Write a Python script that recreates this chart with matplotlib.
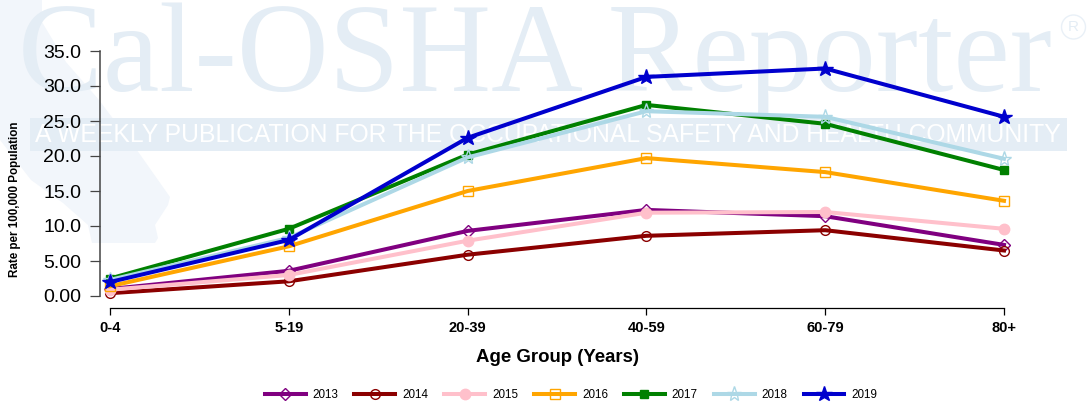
import matplotlib
matplotlib.use("Agg")
import matplotlib.pyplot as plt
from matplotlib.patches import Polygon, Rectangle, Circle

W, H = 1088, 404

age_groups = ['0-4', '5-19', '20-39', '40-59', '60-79', '80+']
y_ticks = [0, 5, 10, 15, 20, 25, 30, 35]
y_labels = ['0.00', '5.00', '10.0', '15.0', '20.0', '25.0', '30.0', '35.0']

rate_2013 = [1.0, 3.6, 9.3, 12.3, 11.4, 7.3]
rate_2014 = [0.4, 2.1, 5.9, 8.6, 9.4, 6.5]
rate_2015 = [0.9, 3.0, 7.9, 11.9, 12.0, 9.6]
rate_2016 = [1.4, 7.1, 15.0, 19.7, 17.7, 13.6]
rate_2017 = [2.5, 9.6, 20.2, 27.3, 24.6, 18.0]
rate_2018 = [2.3, 8.3, 19.8, 26.4, 25.6, 19.6]
rate_2019 = [2.0, 8.0, 22.6, 31.3, 32.5, 25.6]


def px_x(x):
    return x / W


def px_y(y):
    return 1 - y / H


plt.rcParams['font.family'] = ['Liberation Sans', 'DejaVu Sans']
fig = plt.figure(figsize=(W / 100, H / 100), dpi=100)

# watermark sits behind the chart, drawn in figure pixels
bg = fig.add_axes([0, 0, 1, 1], zorder=0)
bg.set_xlim(0, W)
bg.set_ylim(H, 0)
bg.axis('off')
state = [(42, 0), (42, 22), (66, 62), (99, 100), (139, 153), (170, 197), (168, 205),
         (155, 225), (158, 238), (155, 243), (92, 243), (88, 225),
         (63, 203), (31, 180), (0, 140), (0, 0)]
bg.add_patch(Polygon(state, closed=True, fc='#f2f6fb', ec='none'))
bg.add_patch(Rectangle((29.5, 118), 1037, 33, fc='#e4edf5', ec='none'))
bg.text(35, 134.5, 'A WEEKLY PUBLICATION FOR THE OCCUPATIONAL SAFETY AND HEALTH COMMUNITY',
        color='white', fontsize=17.8, va='center', ha='left')
bg.text(18, 91, 'Cal-OSHA Reporter', family='Liberation Serif', color='#e4edf5',
        fontsize=91.5, va='baseline', ha='left')
bg.add_patch(Circle((1073.5, 27), 12, fc='none', ec='#e9f0f7', lw=1))
bg.text(1073.5, 27, 'R', color='#e4edf5', fontsize=11, ha='center', va='center')

# axes: y 0 at 296 px, 35 at 51 px; x ticks from 110 to 1004 px
left, right, top, bottom = 99.5, 1010, 51, 307.7
ax = fig.add_axes([px_x(left), px_y(bottom), px_x(right - left), px_y(top) - px_y(bottom)],
                  zorder=1)
ax.patch.set_alpha(0)
ax.set_xlim((left - 110) / 178.8, (right - 110) / 178.8)
ax.set_ylim((296 - bottom) / 7, 35)

xs = list(range(len(age_groups)))
series = [
    ('2013', rate_2013, 'purple', 'D', 'none', 6),
    ('2014', rate_2014, 'darkred', 'o', 'none', 7),
    ('2015', rate_2015, 'pink', 'o', 'pink', 7.5),
    ('2016', rate_2016, 'orange', 's', 'none', 7),
    ('2017', rate_2017, 'green', 's', 'green', 6),
    ('2018', rate_2018, 'lightblue', '*', 'none', 11),
    ('2019', rate_2019, 'mediumblue', '*', 'mediumblue', 11.5),
]
for name, vals, col, mk, face, ms in series:
    ax.plot(xs, vals, color=col, lw=2.9, marker=mk, ms=ms, mfc=face, mec=col, mew=1.0,
            label=name, clip_on=False, solid_joinstyle='miter')

for side in ['top', 'right']:
    ax.spines[side].set_visible(False)
ax.spines['left'].set_bounds(0, 35)
ax.spines['left'].set_color('#444444')
ax.spines['left'].set_linewidth(1.1)
ax.spines['bottom'].set_bounds(0, 5)
ax.spines['bottom'].set_linewidth(0.9)

ax.set_yticks(y_ticks)
ax.set_yticklabels(y_labels, fontsize=14)
ax.tick_params(axis='y', length=7.2, width=0.9, color='#444444', pad=6)
ax.set_xticks(xs)
ax.set_xticklabels(age_groups, fontsize=10.5, fontweight='bold')
ax.tick_params(axis='x', length=5.3, width=0.9, pad=4.5)

fig.text(px_x(557), px_y(358), 'Age Group (Years)', fontsize=13.4, fontweight='bold',
         ha='center', va='center')
fig.text(px_x(15), px_y(199), 'Rate per 100,000 Population', fontsize=8.4, fontweight='bold',
         rotation=90, ha='center', va='center')

ax.legend(loc='center', bbox_to_anchor=(px_x(571), px_y(395)), bbox_transform=fig.transFigure,
          ncol=7, frameon=False, fontsize=8.4, handlelength=3.5, columnspacing=1.37,
          handletextpad=0.6, borderaxespad=0)

fig.savefig('out.png', dpi=100)
